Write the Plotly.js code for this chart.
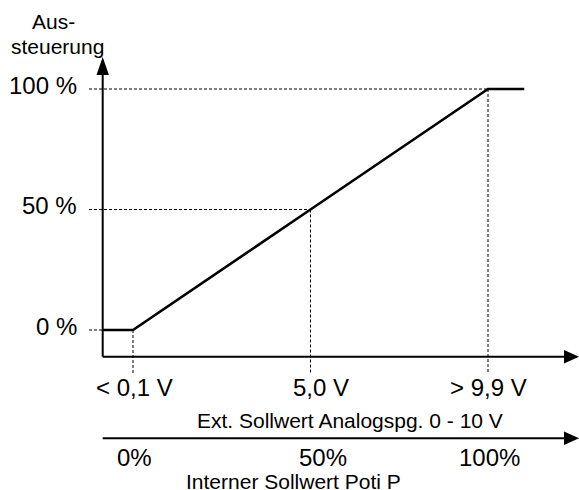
<!DOCTYPE html>
<html>
<head>
<meta charset="utf-8">
<script src="https://cdn.plot.ly/plotly-3.0.1.min.js"></script>
<style>html,body{margin:0;padding:0;background:#fff;}#chart{width:579px;height:490px;}</style>
</head>
<body>
<div id="chart"></div>
<script>
// ---- data ----
const voltPoints = [0.1, 5.0, 9.9];          // characteristic break points (V)
const levelPct   = [0, 50, 100];             // Aussteuerung at those points (%)
const flatEndVolt = 10.9;                    // end of upper flat segment (V)
const xTickLabels = ['< 0,1 V', '5,0 V', '> 9,9 V'];
const potiLabels  = ['0%', '50%', '100%'];
const yTickLabels = ['0 %', '50 %', '100 %'];
const xTitle = 'Ext. Sollwert Analogspg. 0 - 10 V';
const potiTitle = 'Interner Sollwert Poti P';
const yTitleLines = ['Aus-', 'steuerung'];

// ---- layout helpers (pixel -> data, drawing is not to scale) ----
const PX_PER_V = 36.224, PX_PER_PCT = 2.41;
const xv = px => 0.1 + (px - 133) / PX_PER_V;
const yv = px => (330 - px) / PX_PER_PCT;
const AX_X = xv(102.7), AX_Y = yv(356.7), AX2_Y = yv(438.3);
const FONT = '"Liberation Sans", Arial, sans-serif';

const curveX = [AX_X, voltPoints[0], voltPoints[1], voltPoints[2], flatEndVolt];
const curveY = [levelPct[0], levelPct[0], levelPct[1], levelPct[2], levelPct[2]];

const trace = {
  x: curveX, y: curveY, mode: 'lines', type: 'scatter',
  line: {color: '#000', width: 2.6}, hoverinfo: 'skip', showlegend: false
};

const shapes = [];
const dash = {color: '#000', width: 1, dash: '3px,2px'};
for (let i = 0; i < voltPoints.length; i++) {
  shapes.push({type: 'line', xref: 'x', yref: 'y', x0: xv(89), x1: (i === 0 ? AX_X : voltPoints[i]), y0: levelPct[i], y1: levelPct[i], line: dash});
  shapes.push({type: 'line', xref: 'x', yref: 'y', x0: voltPoints[i], x1: voltPoints[i], y0: levelPct[i], y1: yv(373), line: dash});
}
const solid = {color: '#000', width: 2};
shapes.push({type: 'line', xref: 'x', yref: 'y', x0: AX_X, x1: AX_X, y0: AX_Y, y1: yv(70), line: solid});
shapes.push({type: 'line', xref: 'x', yref: 'y', x0: AX_X, x1: xv(566), y0: AX_Y, y1: AX_Y, line: solid});
shapes.push({type: 'line', xref: 'x', yref: 'y', x0: AX_X, x1: xv(566), y0: AX2_Y, y1: AX2_Y, line: solid});
function tri(p) {
  return 'M' + p.map(q => xv(q[0]) + ',' + yv(q[1])).join(' L') + ' Z';
}
const fill = {type: 'path', xref: 'x', yref: 'y', fillcolor: '#000', line: {color: '#000', width: 0}};
shapes.push(Object.assign({}, fill, {path: tri([[102.7, 57], [96.5, 75], [108.9, 75]])}));
shapes.push(Object.assign({}, fill, {path: tri([[579, 356.7], [564, 350], [564, 363.4]])}));
shapes.push(Object.assign({}, fill, {path: tri([[579, 438.3], [564, 431.6], [564, 445]])}));

const annotations = [];
function txt(text, x, y, size, xanchor, xshift, yshift) {
  annotations.push({text: text, x: x, y: y, xref: 'x', yref: 'y', showarrow: false,
    xanchor: xanchor || 'center', yanchor: 'middle', xshift: xshift || 0, yshift: yshift || 0,
    font: {family: FONT, size: size, color: '#000'}});
}
for (let i = 0; i < levelPct.length; i++) txt(yTickLabels[i], AX_X, levelPct[i], 24, 'right', -23.5, 4);
const xLabelShift = [1, 10, 0];
const potiShift = [1.5, 12, 1.5];
for (let i = 0; i < voltPoints.length; i++) {
  txt(xTickLabels[i], voltPoints[i], yv(387), 24, 'center', xLabelShift[i], 0);
  txt(potiLabels[i], voltPoints[i], yv(457.5), 24, 'center', potiShift[i], 0);
}
txt(xTitle, xv(349.5), yv(420.5), 21);
txt(potiTitle, xv(293.5), yv(481.5), 21);
txt(yTitleLines[0], xv(53.5), yv(21.7), 21);
txt(yTitleLines[1], xv(57), yv(46.5), 21);

const layout = {
  width: 579, height: 490,
  margin: {l: 0, r: 0, t: 0, b: 0},
  paper_bgcolor: '#fff', plot_bgcolor: '#fff',
  xaxis: {range: [xv(0), xv(579)], visible: false, fixedrange: true},
  yaxis: {range: [yv(490), yv(0)], visible: false, fixedrange: true},
  shapes: shapes, annotations: annotations, showlegend: false, hovermode: false
};
Plotly.newPlot('chart', [trace], layout, {displayModeBar: false, staticPlot: true});
</script>
</body>
</html>
